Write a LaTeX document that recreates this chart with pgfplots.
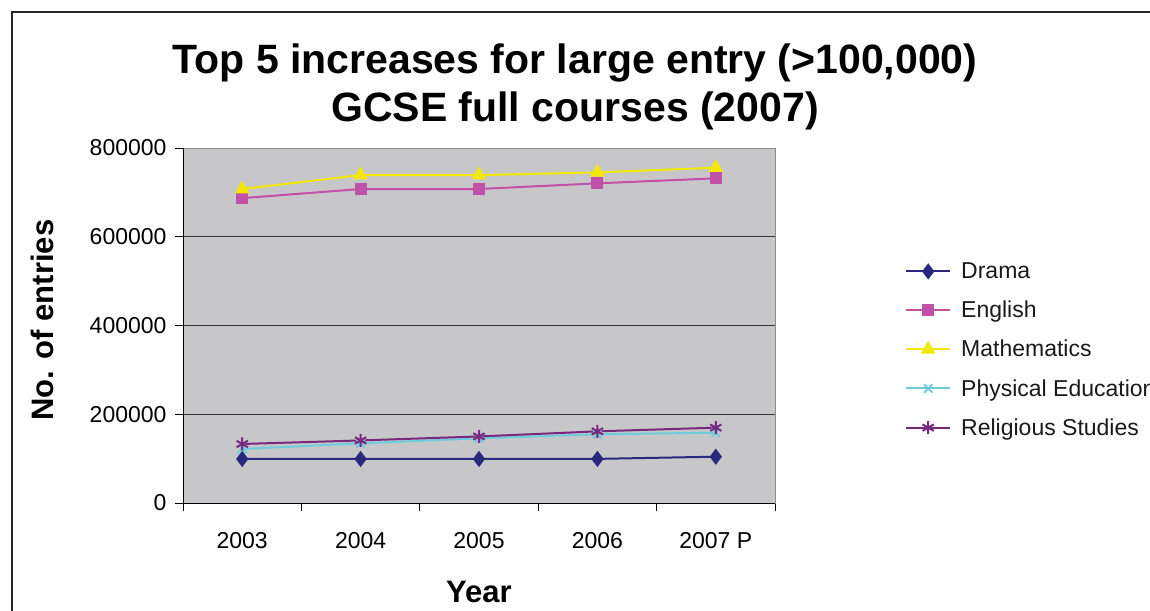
\documentclass[border=0pt]{standalone}
\usepackage{pgfplots}
\pgfplotsset{compat=1.18}
\usepackage{fontspec}
\setmainfont{Liberation Sans}
\definecolor{cdrama}{RGB}{40,40,125}
\definecolor{ceng}{RGB}{192,80,168}
\definecolor{cmath}{RGB}{245,232,0}
\definecolor{cpe}{RGB}{110,204,222}
\definecolor{crs}{RGB}{122,40,126}
\definecolor{cbg}{RGB}{199,199,201}
\begin{document}
\begin{tikzpicture}[x=1pt,y=1pt]
\path[use as bounding box] (0,0) rectangle (1150,-610);
\draw[line width=1.5pt, black!85] (12,-700) -- (12,-12) -- (1200,-12);
\node[font=\bfseries\fontsize{41}{48}\selectfont, align=center] at (575,-87) {Top 5 increases for large entry (>100,000)\\GCSE full courses (2007)};
\begin{axis}[
  at={(183pt,-503pt)}, anchor=south west,
  scale only axis, width=592pt, height=355pt,
  xmin=-0.5, xmax=4.5, ymin=0, ymax=800000,
  xtick={-0.5,0.5,1.5,2.5,3.5,4.5},
  x tick label as interval,
  xticklabels={2003,2004,2005,2006,2007 P},
  ytick={0,200000,400000,600000,800000},
  scaled y ticks=false,
  /pgf/number format/assume math mode=true,
  yticklabel={\pgfmathprintnumber[fixed,1000 sep={}]{\tick}},
  tick label style={font=\fontsize{23}{27}\selectfont, black},
  xticklabel style={yshift=-18pt},
  yticklabel style={xshift=-5pt},
  xtick pos=left, ytick pos=left,
  tick align=outside, major tick length=8pt,
  tick style={black, line width=1pt},
  ymajorgrids, major grid style={black!80, line width=0.9pt},
  axis line style={draw=black!45, line width=1pt},
  axis background/.style={fill=cbg},
  xlabel={Year}, ylabel={No. of entries},
  label style={font=\bfseries\fontsize{31}{36}\selectfont},
  xlabel style={at={(axis description cs:0.5,-0.2507)}, anchor=center},
  ylabel style={at={(axis description cs:-0.2382,0.515)}, anchor=center},
  legend style={at={(axis description cs:1.2196,0.683)}, anchor=north west,
    draw=none, fill=none, font=\fontsize{23}{27}\selectfont,
    row sep=17pt, column sep=8pt, inner sep=0pt, text=black!90},
  legend cell align=left,
  legend image code/.code={\draw[mark repeat=2,mark phase=2] plot coordinates {(0pt,0pt)(22pt,0pt)(44pt,0pt)};},
  every axis plot/.append style={line width=2pt},
]
\addplot[color=cdrama, mark=diamond*, mark size=6.5pt, mark options={solid,fill=cdrama}] coordinates {(0,99200) (1,99200) (2,99200) (3,99400) (4,104400)};
\addlegendentry{Drama}
\addplot[color=ceng, mark=square*, mark size=5pt, mark options={solid,fill=ceng}] coordinates {(0,687000) (1,707600) (2,707600) (3,720400) (4,731700)};
\addlegendentry{English}
\addplot[color=cmath, mark=triangle*, mark size=6.5pt, mark options={solid,fill=cmath}] coordinates {(0,707600) (1,739000) (2,739000) (3,745000) (4,755600)};
\addlegendentry{Mathematics}
\addplot[color=cpe, mark=x, mark size=6pt, mark options={solid}] coordinates {(0,121700) (1,134500) (2,145800) (3,154800) (4,158500)};
\addlegendentry{Physical Education}
\addplot[color=crs, mark=asterisk, mark size=6.5pt, mark options={solid}] coordinates {(0,133000) (1,141000) (2,150000) (3,161500) (4,169800)};
\addlegendentry{Religious Studies}
\draw[black, line width=1pt] (rel axis cs:0,1) -- (rel axis cs:0,0) -- (rel axis cs:1,0);
\end{axis}
\end{tikzpicture}
\end{document}
